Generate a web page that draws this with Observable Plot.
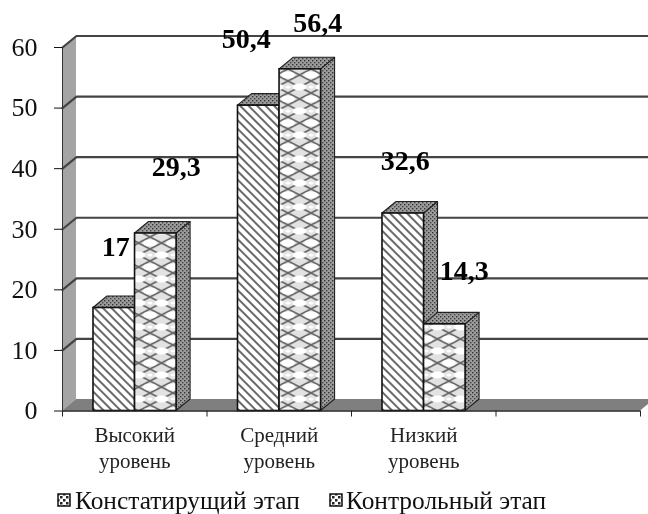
<!DOCTYPE html>
<html><head><meta charset="utf-8">
<script src="https://cdn.jsdelivr.net/npm/d3@7"></script>
<script src="https://cdn.jsdelivr.net/npm/@observablehq/plot@0.6"></script>
<style>
html,body{margin:0;padding:0;background:#fff;overflow:hidden;width:648px;height:514px}
#chart svg{display:block;overflow:hidden;background:#fff}
#legend{position:absolute;top:0;left:0;width:648px;height:514px;pointer-events:none;font-family:"Liberation Serif",serif;font-size:25.4px;color:#111}
#legend span{position:absolute;white-space:nowrap;line-height:26px}
#legend svg{position:absolute}
#all{filter:blur(.45px)}
</style></head><body>
<div id="all"><div id="chart"></div><div id="legend"></div></div>
<script>
const categories = ["Высокий\nуровень", "Средний\nуровень", "Низкий\nуровень"];
const slots = 4;
const seriesNames = ["Констатирущий этап", "Контрольный этап"];
const stage1 = [17, 50.4, 32.6];
const stage2 = [29.3, 56.4, 14.3];
const yTicks = [0, 10, 20, 30, 40, 50, 60];
const labels1 = ["17", "50,4", "32,6"];
const labels2 = ["29,3", "56,4", "14,3"];

const W = 648, H = 514;
const left = 62, right = 640, top0 = 47, base = 410.5;
const pxX = (right - left) / slots;
const pxY = (base - top0) / 60;
const depthX = 14 / pxX, depthY = 11.5 / pxY;
const barStart = 0.2145, barW = 0.2875;
const seriesPatterns = ["stripes", "lattice"];

const bars = s => (s === 0 ? stage1 : stage2).map((v, i) => ({
  id: i, v,
  x0: i + barStart + s * barW,
  x1: i + barStart + (s + 1) * barW
}));

// Side face: a band that climbs by the depth as it runs right
const sideRows = rows => rows.flatMap(b => [
  {id: b.id, x: b.x1, lo: 0, hi: b.v},
  {id: b.id, x: b.x1 + depthX, lo: depthY, hi: b.v + depthY}
]);
// Top face: a horizontal band that shifts right as it climbs
const topRows = rows => rows.flatMap(b => [
  {id: b.id, y: b.v, a: b.x0, c: b.x1},
  {id: b.id, y: b.v + depthY, a: b.x0 + depthX, c: b.x1 + depthX}
]);

const barMarks = s => {
  const rows = bars(s);
  return [
    Plot.area(sideRows(rows), {x1: "x", y1: "lo", y2: "hi", z: "id", fill: "url(#dots)", stroke: "#222", strokeWidth: 1.1}),
    Plot.area(topRows(rows), {y1: "y", x1: "a", x2: "c", z: "id", fill: "url(#dots)", stroke: "#222", strokeWidth: 1.1}),
    Plot.rect(rows, {x1: "x0", x2: "x1", y1: 0, y2: "v", fill: `url(#${seriesPatterns[s]})`, stroke: "#111", strokeWidth: 1.6})
  ];
};

const valueLabel = (x, y, text, dx, dy) =>
  Plot.text([{x, y, text}], {x: "x", y: "y", text: "text", dx, dy, fontFamily: "Liberation Serif", fontWeight: "bold", fontSize: 28, fill: "#000"});

const gridRows = yTicks.slice(1);
const chart = Plot.plot({
  width: W, height: H, marginLeft: left, marginRight: W - right, marginTop: top0, marginBottom: H - base,
  x: {type: "linear", domain: [0, slots], range: [left, right]},
  y: {type: "linear", domain: [0, 60], range: [base, top0]},
  style: {background: "#fff", overflow: "hidden"},
  marks: [
    // left wall
    Plot.area([{x: 0, lo: 0, hi: 60}, {x: depthX, lo: depthY, hi: 60 + depthY}], {x1: "x", y1: "lo", y2: "hi", fill: "#a4a4a4"}),
    // floor
    Plot.area([{y: 0, a: 0, c: slots}, {y: depthY, a: depthX, c: slots + depthX}], {y1: "y", x1: "a", x2: "c", fill: "#7f7f7f"}),
    // grid: diagonal on the wall, then along the back
    ...gridRows.map(t => Plot.line([[0, t], [depthX, t + depthY], [slots + depthX, t + depthY]], {x: d => d[0], y: d => d[1], stroke: "#444", strokeWidth: 2.2})),
    ...barMarks(0),
    ...barMarks(1),
    Plot.ruleX([0], {y1: 0, y2: 60, stroke: "#333", strokeWidth: 1}),
    Plot.ruleY([0], {x1: 0, x2: slots, stroke: "#222", strokeWidth: 1.5}),
    Plot.axisY({ticks: yTicks, tickSize: 8, tickPadding: 17, label: null, fontFamily: "Liberation Serif", fontSize: 26, color: "#111"}),
    Plot.axisX({ticks: d3.range(slots + 1), tickSize: 6, tickFormat: () => "", label: null, color: "#222"}),
    Plot.axisX({ticks: categories.map((_, i) => i + 0.5), tickSize: 0, tickPadding: 12, tickFormat: d => categories[d - 0.5], lineHeight: 1.24, label: null, fontFamily: "Liberation Serif", fontSize: 21, fill: "#222", textOverflow: null}),
    valueLabel(0.5, stage1[0], labels1[0], -19, -61),
    valueLabel(0.5, stage2[0], labels2[0], 41.5, -66),
    valueLabel(1.5, stage1[1], labels1[1], -33, -67),
    valueLabel(1.5, stage2[1], labels2[1], 38.5, -46),
    valueLabel(2.5, stage1[2], labels1[2], -18.5, -52),
    valueLabel(2.5, stage2[2], labels2[2], 40.5, -53)
  ]
});

const defs = `
<defs>
<pattern id="stripes" width="6" height="6" patternUnits="userSpaceOnUse" patternTransform="rotate(45)">
  <rect width="6" height="6" fill="#fff"/><rect y="0" width="6" height="2" fill="#6a6a6a"/>
</pattern>
<pattern id="lattice" width="23" height="24" patternUnits="userSpaceOnUse" patternTransform="translate(0.5 3)">
  <rect width="23" height="24" fill="#e2e2e2"/>
  <path d="M0 0 L23 12 L0 24 M23 0 L0 12 L23 24" fill="none" stroke="#666" stroke-width="1.6"/>
  <g fill="#fff">
    <ellipse cx="11.5" cy="0" rx="7" ry="3.4"/><ellipse cx="11.5" cy="24" rx="7" ry="3.4"/>
    <ellipse cx="0" cy="12" rx="7" ry="3.4"/><ellipse cx="23" cy="12" rx="7" ry="3.4"/>
    <ellipse cx="11.5" cy="12" rx="2.6" ry="1.6"/>
  </g>
</pattern>
<pattern id="dots" width="4" height="4" patternUnits="userSpaceOnUse">
  <rect width="4" height="4" fill="#9c9c9c"/><rect x="0" y="0" width="1.4" height="1.4" fill="#333"/><rect x="2" y="2" width="1.4" height="1.4" fill="#444"/>
</pattern>
<pattern id="swatch" width="6" height="6" patternUnits="userSpaceOnUse">
  <rect width="6" height="6" fill="#fff"/><rect width="2.5" height="2.5" fill="#222"/><rect x="3" y="3" width="2.5" height="2.5" fill="#222"/>
</pattern>
</defs>`;
chart.insertAdjacentHTML("afterbegin", defs);
document.getElementById("chart").append(chart);

const legend = document.getElementById("legend");
const swatchX = [57, 329], textX = [75, 346];
seriesNames.forEach((n, i) => {
  legend.insertAdjacentHTML("beforeend",
    `<svg style="left:${swatchX[i]}px;top:493px" width="14" height="14"><rect x="1" y="1" width="12" height="12" fill="url(#swatch)" stroke="#111" stroke-width="1.5"/></svg>` +
    `<span style="left:${textX[i]}px;top:487px">${n}</span>`);
});
</script>
</body></html>
